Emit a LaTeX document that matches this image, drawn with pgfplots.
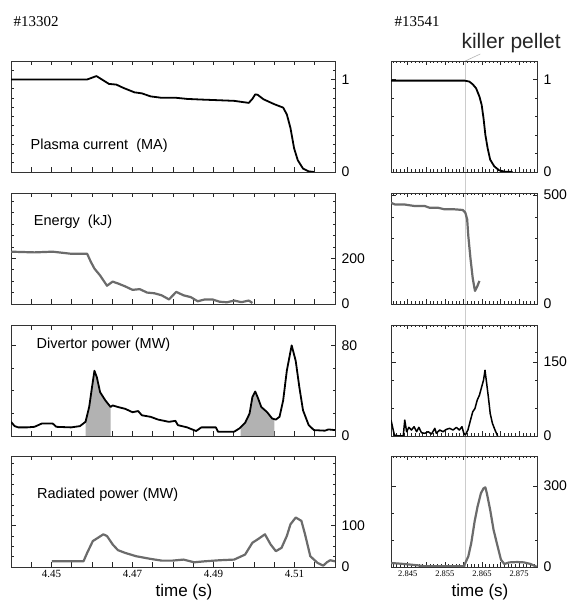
\documentclass[border=0pt]{standalone}
\usepackage{pgfplots}
\pgfplotsset{compat=1.18}
\usepackage{fontspec}
\setmainfont{Liberation Sans}
\newfontfamily\serif{Liberation Serif}
\usetikzlibrary{backgrounds}
\pgfplotsset{
  base/.style={scale only axis, anchor=south west, height=111pt, ymin=0,
    axis line style={black!80, line width=0.7pt},
    tick style={black!85, line width=0.6pt},
    tick align=inside, major tick length=4.5pt, minor tick length=2.5pt,
    yticklabel pos=right,
    yticklabel style={font=\fontsize{14}{14}\selectfont, xshift=3pt},
    xticklabel style={font=\serif\fontsize{11}{11}\selectfont}},
  L/.style={base, width=324pt, xmin=4.44, xmax=4.52,
    xtick={4.445,4.45,4.455,4.46,4.465,4.47,4.475,4.48,4.485,4.49,4.495,4.5,4.505,4.51,4.515},
    xticklabels={}},
  R/.style={base, width=146pt, xmin=2.8405, xmax=2.8798,
    xtick={2.845,2.85,2.855,2.86,2.865,2.87,2.875},
    minor xtick={2.841,2.842,2.843,2.844,2.846,2.847,2.848,2.849,2.851,2.852,2.853,2.854,2.856,2.857,2.858,2.859,2.861,2.862,2.863,2.864,2.866,2.867,2.868,2.869,2.871,2.872,2.873,2.874,2.876,2.877,2.878,2.879},
    xticklabels={}, xticklabel style={font=\serif\fontsize{8.5}{8.5}\selectfont}},
  blk/.style={black, line width=1.8pt, line join=round},
  gry/.style={black!58, line width=2.2pt, line join=round},
}
\begin{document}
\begin{tikzpicture}
\useasboundingbox (0,0) rectangle (570pt,601pt);
% ---------- left column ----------
\begin{axis}[L, at={(11pt,429pt)}, ymax=1.2, ytick={0,1}, yticklabels={0,1},
  minor ytick={0.1,0.2,0.3,0.4,0.5,0.6,0.7,0.8,0.9,1.1}]
\addplot[blk] coordinates {(4.44,1.0)(4.4588,1.0)(4.4611,1.037)(4.4642,0.952)(4.4660,0.945)(4.4678,0.908)(4.4705,0.861)(4.4723,0.85)(4.4745,0.817)(4.4772,0.802)(4.4808,0.802)(4.4835,0.79)(4.4870,0.783)(4.4906,0.777)(4.4951,0.769)(4.4987,0.747)(4.4996,0.79)(4.5003,0.839)(4.5009,0.835)(4.5023,0.787)(4.5050,0.733)(4.5072,0.696)(4.5081,0.623)(4.5090,0.476)(4.5099,0.256)(4.5108,0.128)(4.5121,0.037)(4.5135,0.007)(4.5148,0.0)};
\node[anchor=west, font=\fontsize{14.5}{14.5}\selectfont] at (rel axis cs:0.05,0.24) {Plasma current\ \ (MA)};
\end{axis}
\begin{axis}[L, at={(11pt,297pt)}, ymax=486, ytick={0,200}, yticklabels={0,200},
  minor ytick={50,100,150,250,300,350,400,450}]
\addplot[gry] coordinates {(4.44,229)(4.4458,226)(4.4503,229)(4.4548,220)(4.4588,220)(4.4597,185)(4.4606,155)(4.4620,125)(4.4637,80)(4.4651,98)(4.4664,90)(4.4682,77)(4.4700,62)(4.4718,65)(4.4736,50)(4.4754,47)(4.4772,38)(4.4790,20)(4.4808,53)(4.4826,38)(4.4844,30)(4.4861,12)(4.4879,20)(4.4897,20)(4.4915,10)(4.4933,7.5)(4.4951,15)(4.4969,8)(4.4987,15)(4.4996,4.5)};
\node[anchor=west, font=\fontsize{14.5}{14.5}\selectfont] at (rel axis cs:0.06,0.74) {Energy\ \ (kJ)};
\end{axis}
\begin{axis}[L, at={(11pt,165pt)}, ymax=98, ytick={0,80}, yticklabels={0,80},
  minor ytick={20,40,60}]
\addplot[fill=black!30, draw=none] coordinates {(4.4584,12.5)(4.4593,25.6)(4.4600,43)(4.4606,57.6)(4.4612,51.8)(4.4620,38.7)(4.4633,31.4)(4.4646,25.6)} \closedcycle;
\addplot[fill=black!30, draw=none] coordinates {(4.4967,7)(4.4978,11.6)(4.4989,19.8)(4.4996,34.3)(4.5003,39.3)(4.5009,34.3)(4.5018,25.6)(4.5032,21.2)(4.5045,15.4)(4.5050,14.8)} \closedcycle;
\addplot[blk] coordinates {(4.44,12.5)(4.4409,8.7)(4.4418,7.6)(4.4440,7.6)(4.4458,8.1)(4.4476,11)(4.4503,11)(4.4512,8.1)(4.4548,7.6)(4.4570,8.7)(4.4584,12.5)(4.4593,25.6)(4.4600,43)(4.4606,57.6)(4.4612,51.8)(4.4620,38.7)(4.4633,31.4)(4.4646,25.6)(4.4651,27)(4.4664,25.6)(4.4682,24)(4.4700,21)(4.4714,22)(4.4723,18.3)(4.4745,16.9)(4.4763,14.5)(4.4790,12.5)(4.4806,13.4)(4.4812,9.6)(4.4835,7.6)(4.4857,4.4)(4.4870,7.6)(4.4906,7.6)(4.4911,3.8)(4.4924,3.8)(4.4951,3.8)(4.4964,6.7)(4.4978,11.6)(4.4989,19.8)(4.4996,34.3)(4.5003,39.3)(4.5009,34.3)(4.5018,25.6)(4.5032,21.2)(4.5045,15.4)(4.5054,14.5)(4.5063,16.9)(4.5072,31.4)(4.5081,57.6)(4.5093,80)(4.5103,66.3)(4.5112,43)(4.5121,22.7)(4.5135,9.6)(4.5148,5.2)(4.5175,4.7)(4.5184,5.8)(4.52,5.2)};
\node[anchor=west, font=\fontsize{14.5}{14.5}\selectfont] at (rel axis cs:0.068,0.82) {Divertor power (MW)};
\end{axis}
\begin{axis}[L, at={(11pt,34pt)}, ymax=268, ytick={0,100}, yticklabels={0,100},
  minor ytick={25,50,75,125,150,175,200,225,250},
  xticklabels={,4.45,,,,4.47,,,,4.49,,,,4.51,}]
\addplot[gry] coordinates {(4.4501,13.8)(4.4579,13.8)(4.4588,34)(4.4602,62.6)(4.4615,70.7)(4.4628,78.9)(4.4637,74.8)(4.4651,54.5)(4.4664,40.7)(4.4682,34)(4.4709,26)(4.4745,19.5)(4.4772,15.4)(4.4799,15.4)(4.4826,17.9)(4.4852,11.4)(4.4879,13.8)(4.4915,16.3)(4.4951,17.9)(4.4978,30)(4.4996,58.5)(4.5009,66.7)(4.5027,78.9)(4.5041,54.5)(4.5054,38.2)(4.5068,46.3)(4.5081,74.8)(4.5090,103)(4.5103,119.5)(4.5117,111.4)(4.5126,78.9)(4.5139,26)(4.5157,9.8)(4.5171,3.3)(4.5180,11.4)(4.5188,16.3)(4.52,13.8)};
\node[anchor=west, font=\fontsize{14.5}{14.5}\selectfont] at (rel axis cs:0.07,0.65) {Radiated power (MW)};
\end{axis}
% ---------- right column ----------
\begin{axis}[R, at={(391pt,429pt)}, ymax=1.2, ytick={0,1}, yticklabels={0,1},
  minor ytick={0.2,0.4,0.6,0.8}]
\addplot[blk] coordinates {(2.8405,0.988)(2.8603,0.988)(2.8616,0.977)(2.8625,0.948)(2.8634,0.905)(2.8643,0.816)(2.8649,0.726)(2.8654,0.582)(2.8659,0.402)(2.8665,0.259)(2.8672,0.133)(2.8683,0.061)(2.8696,0.018)(2.8710,0.004)(2.8732,0.0)};
\coordinate (ptop) at (axis cs:2.8605,1.2);
\end{axis}
\begin{axis}[R, at={(391pt,297pt)}, ymax=510, ytick={0,500}, yticklabels={0,500},
  minor ytick={100,200,300,400}]
\addplot[gry] coordinates {(2.8405,465)(2.8416,457)(2.8442,457)(2.8469,450)(2.8496,450)(2.8509,442)(2.8532,442)(2.8549,435)(2.8576,435)(2.8598,432)(2.8605,420)(2.8610,389)(2.8613,314)(2.8619,208)(2.8625,118)(2.8631,60)(2.8637,80)(2.8643,106)};
\end{axis}
\begin{axis}[R, at={(391pt,165pt)}, ymax=225, ytick={0,150}, yticklabels={0,150},
  minor ytick={56.25,112.5,168.75}]
\addplot[blk, line width=1.5pt] coordinates {(2.8405,32.3)(2.8409,18.8)(2.8414,2.0)(2.8425,0)(2.8438,0)(2.8442,32.3)(2.8447,8.7)(2.8453,17.5)(2.8460,12.1)(2.8467,18.8)(2.8474,8.7)(2.8480,17.5)(2.8487,6.7)(2.8496,5.4)(2.8505,8.7)(2.8514,4.0)(2.8523,15.5)(2.8527,5.4)(2.8536,12.1)(2.8545,8.7)(2.8554,13.5)(2.8563,15.5)(2.8572,12.1)(2.8581,17.5)(2.8589,12.1)(2.8596,18.8)(2.8601,5.4)(2.8605,2.0)(2.8612,12.1)(2.8619,32.3)(2.8625,49.1)(2.8631,55.8)(2.8637,72.6)(2.8643,82.7)(2.8649,99.5)(2.8654,113)(2.8658,133.2)(2.8662,109.6)(2.8667,79.4)(2.8672,45.7)(2.8678,25.6)(2.8685,12.1)(2.8692,0)};
\end{axis}
\begin{axis}[R, at={(391pt,34pt)}, ymax=411, ytick={0,300}, yticklabels={0,300},
  minor ytick={100,200},
  xticklabels={2.845,,2.855,,2.865,,2.875}]
\addplot[gry] coordinates {(2.8405,14.8)(2.8442,11)(2.8478,6)(2.8496,2.5)(2.8549,2.5)(2.8601,2.5)(2.8607,21)(2.8613,39)(2.8621,88.5)(2.8630,168)(2.8638,224)(2.8647,273)(2.8654,291)(2.8659,295)(2.8663,273)(2.8672,211)(2.8681,138)(2.8692,76)(2.8701,27)(2.8710,11)(2.8723,17)(2.8745,18.4)(2.8763,17)(2.8781,11)(2.8794,2.5)(2.8799,0)};
\coordinate (pbot) at (axis cs:2.8605,0);
\end{axis}
\begin{scope}[on background layer]
\draw[black!20, line width=1.6pt] (ptop) -- (pbot);
\draw[black!30, line width=0.6pt] (ptop) -- ++(15pt,7pt);
\end{scope}
% ---------- texts ----------
\node[anchor=west, font=\serif\fontsize{15}{15}\selectfont] at (10pt,579pt) {\#13302};
\node[anchor=west, font=\serif\fontsize{15}{15}\selectfont] at (391pt,579pt) {\#13541};
\node[anchor=west, font=\fontsize{21}{21}\selectfont, black!85] at (458pt,558pt) {killer pellet};
\node[font=\fontsize{17}{17}\selectfont] at (184pt,9pt) {time (s)};
\node[font=\fontsize{17}{17}\selectfont] at (480pt,9pt) {time (s)};
\end{tikzpicture}
\end{document}
